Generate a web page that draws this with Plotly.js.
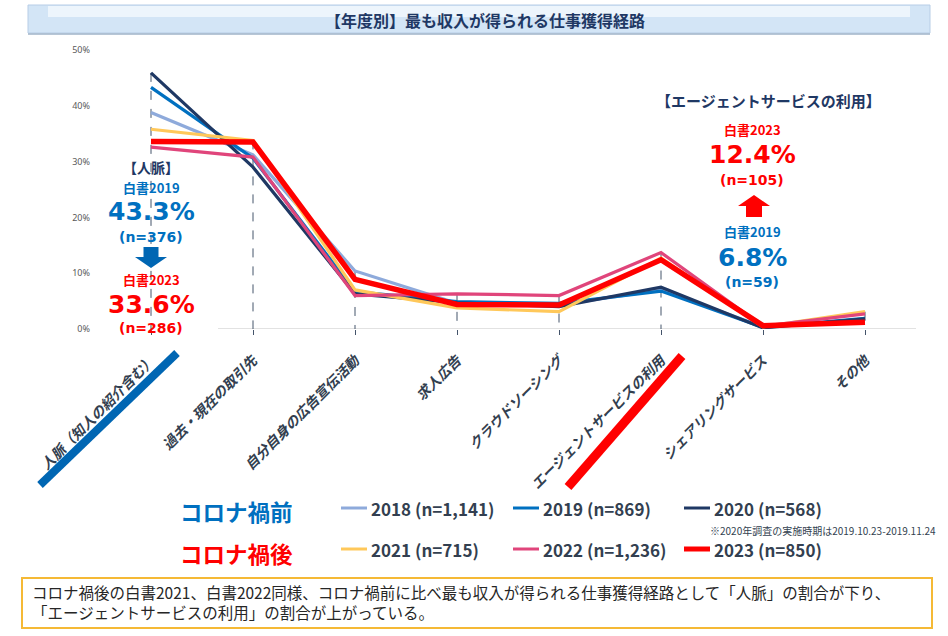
<!DOCTYPE html>
<html><head><meta charset="utf-8">
<script src="https://cdn.plot.ly/plotly-3.0.1.min.js"></script>
<style>html,body{margin:0;padding:0;background:#fff}#chart{width:948px;height:636px}</style>
</head><body><div id="chart"></div>
<script>
const categories = ['人脈（知人の紹介含む）','過去・現在の取引先','自分自身の広告宣伝活動','求人広告','クラウドソーシング','エージェントサービスの利用','シェアリングサービス','その他'];
const v2018 = [38.8, 31.2, 10.4, 4.6, 4.3, 7.0, 0.4, 1.7];
const v2019 = [43.3, 30.6, 6.7, 4.9, 4.6, 6.8, 0.3, 1.9];
const v2020 = [45.9, 29.0, 6.3, 4.7, 4.0, 7.5, 0.2, 1.8];
const v2021 = [35.8, 33.8, 7.0, 3.8, 3.1, 12.7, 0.4, 3.1];
const v2022 = [32.6, 30.8, 6.0, 6.3, 6.0, 13.7, 0.5, 2.7];
const v2023 = [33.6, 33.5, 8.9, 4.4, 4.3, 12.4, 0.6, 1.2];
const seriesNames = ['2018 (n=1,141)','2019 (n=869)','2020 (n=568)','2021 (n=715)','2022 (n=1,236)','2023 (n=850)'];
const seriesValues = [v2018, v2019, v2020, v2021, v2022, v2023];
const colors = ['#8eaadb','#0070c0','#1f3864','#ffc85a','#e0457b','#ff0000'];
const widths = [3.2,3.2,3.2,3.2,3.2,5.5];

const W=948,H=636,L=100,R=32,T=50,B=307;
const PW=W-L-R, PH=H-T-B;
const px=x=>(x-L)/PW, py=y=>(H-B-y)/PH;
const FONT='"Noto Sans CJK JP", "Noto Sans", sans-serif';
const NUMFONT='"DejaVu Sans", "Noto Sans CJK JP", sans-serif';

const traces=[];
const dx=[],dy=[];
categories.forEach((c,i)=>{const m=Math.max(...seriesValues.map(s=>s[i]));dx.push(c,c,null);dy.push(m,0,null);});
traces.push({x:dx,y:dy,mode:'lines',line:{color:'#44546a',width:1,dash:'dash'},hoverinfo:'skip',showlegend:false});
seriesValues.forEach((vals,k)=>{
  traces.push({x:categories,y:vals,name:seriesNames[k],mode:'lines',line:{color:colors[k],width:widths[k]},showlegend:false});
});

const anns=[];
function A(text,x,y,size,color,opt,fam){anns.push(Object.assign({text:text,xref:'paper',yref:'paper',x:px(x),y:py(y),xanchor:'center',yanchor:'middle',showarrow:false,borderpad:0,font:{family:fam||FONT,size:size,color:color}},opt||{}));}
const BLUE='#0070c0',RED='#ff0000',NAVY='#1f3864';
A('<b>【年度別】最も収入が得られる仕事獲得経路</b>',485,20,16,NAVY);
A('<b>【人脈】</b>',151,167,14,NAVY);
A('<b>白書2019</b>',151,187,13,BLUE);
A('<b>43.3%</b>',151,212,25,BLUE,null,NUMFONT);
A('<b>(n=376)</b>',151,237,14,BLUE,null,NUMFONT);
A('<b>白書2023</b>',151,279,13,RED);
A('<b>33.6%</b>',151,304,25,RED,null,NUMFONT);
A('<b>(n=286)</b>',151,328,14,RED,null,NUMFONT);
A('<b>【エージェントサービスの利用】</b>',768,100,15,NAVY);
A('<b>白書2023</b>',752,129,13,RED);
A('<b>12.4%</b>',752,154,25,RED,null,NUMFONT);
A('<b>(n=105)</b>',752,180,14,RED,null,NUMFONT);
A('<b>白書2019</b>',752,232,13,BLUE);
A('<b>6.8%</b>',752,257,25,BLUE,null,NUMFONT);
A('<b>(n=59)</b>',752,282,14,BLUE,null,NUMFONT);
A('<b>コロナ禍前</b>',236,511,22.5,BLUE);
A('<b>コロナ禍後</b>',236,553,22.5,RED);
const legPos=[[341,508],[513,508],[684,508],[341,549],[513,549],[684,549]];
const legendShapes=[];
seriesNames.forEach((n,k)=>{
  const [lx,ly]=legPos[k];
  legendShapes.push({type:'line',xref:'paper',yref:'paper',x0:px(lx),x1:px(lx+26),y0:py(ly),y1:py(ly),line:{color:colors[k],width:k===5?5:3}});
  A('<b>'+n+'</b>',lx+29,ly,17,'#333f50',{xanchor:'left'});
});
A('※2020年調査の実施時期は2019.10.23-2019.11.24',937,530,10,'#333f50',{xanchor:'right'});
A('コロナ禍後の白書2021、白書2022同様、コロナ禍前に比べ最も収入が得られる仕事獲得経路として「人脈」の割合が下り、<br>「エージェントサービスの利用」の割合が上がっている。',31,602,15.5,'#262626',{xanchor:'left',align:'left'});

function arrow(cx,top,headY,bot,shaftW,headW,down,color){
  let p;
  if(down){
    p=`M ${px(cx-shaftW/2)} ${py(top)} L ${px(cx+shaftW/2)} ${py(top)} L ${px(cx+shaftW/2)} ${py(headY)} L ${px(cx+headW/2)} ${py(headY)} L ${px(cx)} ${py(bot)} L ${px(cx-headW/2)} ${py(headY)} L ${px(cx-shaftW/2)} ${py(headY)} Z`;
  } else {
    p=`M ${px(cx-shaftW/2)} ${py(bot)} L ${px(cx+shaftW/2)} ${py(bot)} L ${px(cx+shaftW/2)} ${py(headY)} L ${px(cx+headW/2)} ${py(headY)} L ${px(cx)} ${py(top)} L ${px(cx-headW/2)} ${py(headY)} L ${px(cx-shaftW/2)} ${py(headY)} Z`;
  }
  return {type:'path',xref:'paper',yref:'paper',path:p,fillcolor:color,line:{width:0}};
}
const shapes=[
  {type:'rect',xref:'paper',yref:'paper',x0:px(28),x1:px(930),y0:py(33),y1:py(5),fillcolor:'#d3e5f6',line:{color:'#b7cde6',width:1},layer:'below'},
  {type:'rect',xref:'paper',yref:'paper',x0:px(48),x1:px(910),y0:py(17),y1:py(6),fillcolor:'#edf5fc',line:{width:0},layer:'below'},
  {type:'line',xref:'paper',yref:'paper',x0:px(28),x1:px(930),y0:py(34),y1:py(34),line:{color:'#9fb3c8',width:1.5},layer:'below'},
  {type:'line',xref:'paper',yref:'y',x0:px(218),x1:px(916),y0:0,y1:0,line:{color:'#d9d9d9',width:1.5},layer:'below'},
  {type:'line',xref:'paper',yref:'paper',x0:px(40),y0:py(485),x1:px(177),y1:py(353),line:{color:'#0066b3',width:8}},
  {type:'line',xref:'paper',yref:'paper',x0:px(568),y0:py(487),x1:px(682),y1:py(356),line:{color:'#ff0000',width:9}},
  arrow(151,247,257,268,15,32,true,'#0066b3'),
  arrow(754,195,206,217,16,32,false,'#ff0000'),
  {type:'rect',xref:'paper',yref:'paper',x0:px(22),x1:px(932),y0:py(628),y1:py(578),fillcolor:'rgba(0,0,0,0)',line:{color:'#f5b935',width:2}}
].concat(legendShapes);

const layout={
  width:W,height:H,margin:{l:L,r:R,t:T,b:B},
  paper_bgcolor:'#fff',plot_bgcolor:'#fff',showlegend:false,
  xaxis:{type:'category',range:[-0.5,7.5],showgrid:false,zeroline:false,showline:false,
    ticks:'outside',ticklen:5,tickcolor:'#44546a',tickangle:-45,ticklabelstandoff:12,
    tickfont:{family:FONT,size:14,color:'#333f50',style:'italic',weight:'bold'}},
  yaxis:{range:[0,50],dtick:10,ticksuffix:'%',showgrid:false,zeroline:false,showline:false,ticks:'',
    ticklabelstandoff:9,tickfont:{family:'"Noto Sans", sans-serif',size:9,color:'#595959'}},
  annotations:anns,shapes:shapes
};
Plotly.newPlot('chart',traces,layout,{displayModeBar:false,staticPlot:true});
</script></body></html>
